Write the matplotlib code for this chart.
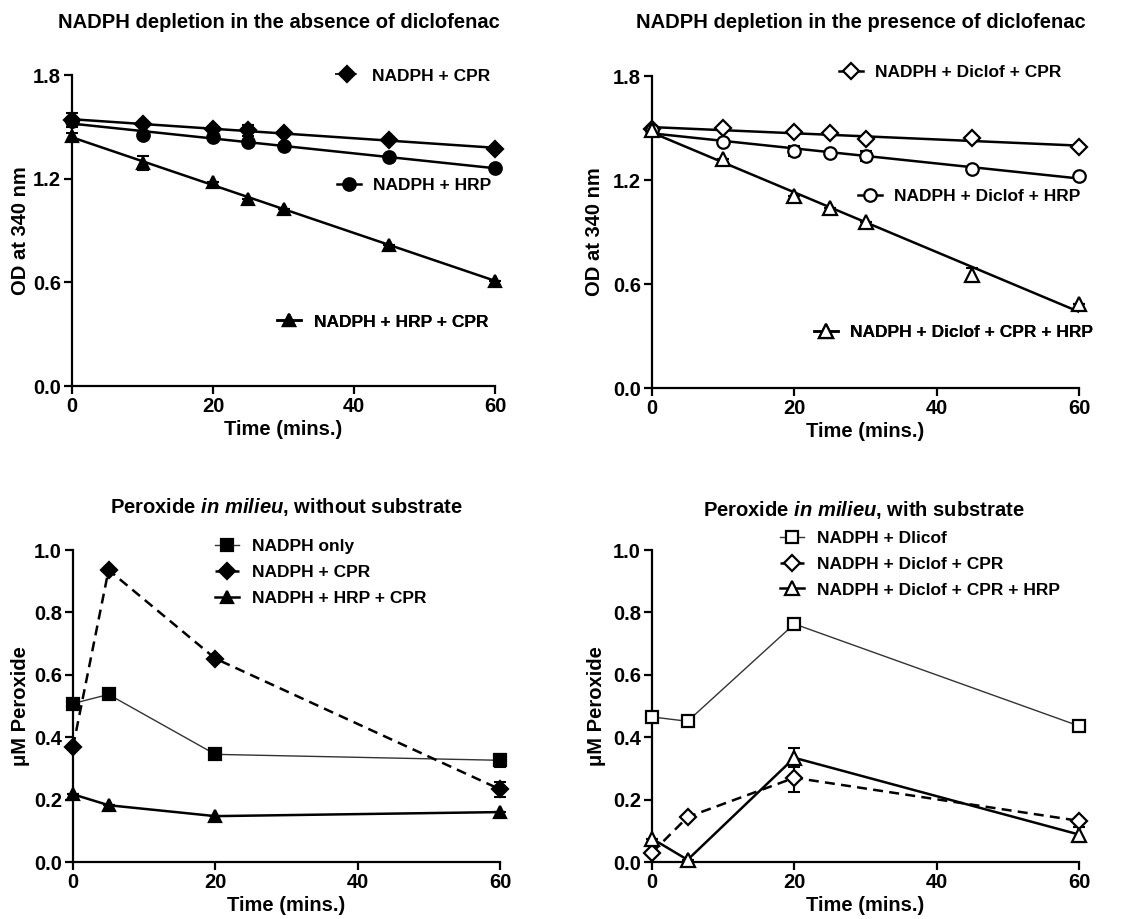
import numpy as np
import matplotlib
matplotlib.use("Agg")
import matplotlib.pyplot as plt
from matplotlib.lines import Line2D

plt.rcParams['font.family'] = ['Liberation Sans', 'DejaVu Sans']
plt.rcParams['font.weight'] = 'bold'
plt.rcParams['mathtext.fontset'] = 'custom'
plt.rcParams['mathtext.rm'] = 'Liberation Sans:bold'
plt.rcParams['mathtext.it'] = 'Liberation Sans:italic:bold'

# NADPH depletion, no diclofenac
t_dep = [0, 10, 20, 25, 30, 45, 60]
od_cpr = [1.541, 1.516, 1.487, 1.479, 1.464, 1.425, 1.373]
od_cpr_err = [0.04, 0, 0, 0.03, 0, 0, 0]
od_hrp = [1.531, 1.454, 1.441, 1.410, 1.390, 1.325, 1.261]
od_hrp_err = [0, 0, 0, 0, 0, 0, 0]
od_hrp_cpr = [1.445, 1.29, 1.178, 1.081, 1.024, 0.817, 0.61]
od_hrp_cpr_err = [0.02, 0.04, 0, 0, 0, 0, 0]

# NADPH depletion, with diclofenac
od_d_cpr = [1.492, 1.498, 1.475, 1.469, 1.436, 1.440, 1.388]
od_d_cpr_err = [0, 0, 0, 0, 0, 0, 0]
od_d_hrp = [1.488, 1.42, 1.369, 1.357, 1.338, 1.263, 1.224]
od_d_hrp_err = [0, 0, 0.03, 0, 0.03, 0, 0]
od_d_cpr_hrp = [1.49, 1.32, 1.105, 1.036, 0.955, 0.651, 0.483]
od_d_cpr_hrp_err = [0.02, 0, 0, 0, 0, 0.04, 0]

# Peroxide, no substrate
t_per = [0, 5, 20, 60]
per_only = [0.508, 0.537, 0.345, 0.326]
per_only_err = [0, 0, 0, 0.02]
per_cpr = [0.369, 0.936, 0.652, 0.233]
per_cpr_err = [0, 0, 0, 0.025]
per_hrp_cpr = [0.217, 0.182, 0.147, 0.160]
per_hrp_cpr_err = [0, 0, 0, 0]

# Peroxide, with substrate
per_d = [0.465, 0.451, 0.763, 0.436]
per_d_err = [0, 0.01, 0.01, 0]
per_d_cpr = [0.030, 0.144, 0.27, 0.132]
per_d_cpr_err = [0, 0, 0.045, 0]
per_d_cpr_hrp = [0.075, 0.007, 0.334, 0.088]
per_d_cpr_hrp_err = [0, 0, 0.03, 0.025]

W, H = 1144, 919
fig = plt.figure(figsize=(W / 100, H / 100), dpi=100)

FS = 14.5


def px_axes(l, t, r, b):
    return fig.add_axes([l / W, 1 - b / H, (r - l) / W, (b - t) / H])


def style(ax, ymax, yticks, ylabel, ylab_x):
    ax.set_xlim(0, 60)
    ax.set_ylim(0, ymax)
    ax.set_xticks([0, 20, 40, 60])
    ax.set_yticks(yticks)
    ax.set_yticklabels(['%.1f' % v for v in yticks])
    for s in ['top', 'right']:
        ax.spines[s].set_visible(False)
    for s in ['left', 'bottom']:
        ax.spines[s].set_linewidth(1.6)
    ax.tick_params(direction='out', length=6, width=1.6, labelsize=FS, pad=2)
    for lab in ax.get_xticklabels() + ax.get_yticklabels():
        lab.set_fontweight('bold')
    ax.set_xlabel('Time (mins.)', fontsize=FS, fontweight='bold', labelpad=3)
    ax.set_ylabel(ylabel, fontsize=FS, fontweight='bold')
    ax.yaxis.set_label_coords(ylab_x, 0.5)


def series(ax, x, y, err, marker, ms, open_=False, ls='-', lw=1.8, fit=False, color='black'):
    fc = 'white' if open_ else 'black'
    ax.errorbar(x, y, yerr=err, fmt='none', ecolor='black', elinewidth=1.5,
                capsize=4, capthick=1.5, clip_on=False, zorder=3)
    if fit:
        k, b0 = np.polyfit(x, y, 1)
        xs = np.array([0, 60])
        ax.plot(xs, k * xs + b0, color='black', lw=lw, ls=ls, zorder=2)
    else:
        ax.plot(x, y, color=color, lw=lw, ls=ls, zorder=2)
    ax.plot(x, y, ls='none', marker=marker, ms=ms, mfc=fc, mec='black',
            mew=1.6, clip_on=False, zorder=4)
    return Line2D([], [], color=color, lw=lw, ls=ls, marker=marker, ms=ms,
                  mfc=fc, mec='black', mew=1.6)


def legend1(ax, h, label, x, y, fs=12.5):
    lg = ax.legend([h], [label], loc='center left', bbox_to_anchor=(x, y),
                   frameon=False, borderpad=0, borderaxespad=0,
                   handlelength=1.4, handletextpad=0.7,
                   prop={'weight': 'bold', 'size': fs})
    ax.add_artist(lg)


# ---- top left
ax1 = px_axes(72, 75, 495, 386)
style(ax1, 1.8, [0.0, 0.6, 1.2, 1.8], 'OD at 340 nm', -0.100)
h1 = series(ax1, t_dep, od_cpr, od_cpr_err, 'D', 8, fit=True)
h2 = series(ax1, t_dep, od_hrp, od_hrp_err, 'o', 9, fit=True)
h3 = series(ax1, t_dep, od_hrp_cpr, od_hrp_cpr_err, '^', 9, fit=True)
h1.set_linestyle((0, (3, 2)))
h1.set_linewidth(1.2)
legend1(ax1, h1, 'NADPH + CPR', 0.622, 0.997)
legend1(ax1, h2, 'NADPH + HRP', 0.626, 0.646)
legend1(ax1, h3, 'NADPH + HRP + CPR', 0.485, 0.206)

# ---- top right
ax2 = px_axes(652, 76, 1079, 388)
style(ax2, 1.8, [0.0, 0.6, 1.2, 1.8], 'OD at 340 nm', -0.112)
g1 = series(ax2, t_dep, od_d_cpr, od_d_cpr_err, 'D', 8, open_=True, fit=True)
g2 = series(ax2, t_dep, od_d_hrp, od_d_hrp_err, 'o', 9, open_=True, fit=True)
g3 = series(ax2, t_dep, od_d_cpr_hrp, od_d_cpr_hrp_err, '^', 10, open_=True, fit=True)
legend1(ax2, g1, 'NADPH + Diclof + CPR', 0.438, 1.01)
legend1(ax2, g2, 'NADPH + Diclof + HRP', 0.482, 0.615)
legend1(ax2, g3, 'NADPH + Diclof + CPR + HRP', 0.379, 0.179)

# ---- bottom left
ax3 = px_axes(73, 550, 500, 862)
style(ax3, 1.0, [0.0, 0.2, 0.4, 0.6, 0.8, 1.0], '\u03bcM Peroxide', -0.100)
k1 = series(ax3, t_per, per_only, per_only_err, 's', 9, lw=1.0, color='#333333')
k2 = series(ax3, t_per, per_cpr, per_cpr_err, 'D', 8, ls=(0, (4, 2.5)), lw=1.8)
k3 = series(ax3, t_per, per_hrp_cpr, per_hrp_cpr_err, '^', 9, lw=1.8)
ax3.legend([k1, k2, k3], ['NADPH only', 'NADPH + CPR', 'NADPH + HRP + CPR'],
           loc='center left', bbox_to_anchor=(0.333, 0.929), frameon=False,
           borderpad=0, borderaxespad=0, handlelength=1.4, handletextpad=0.7,
           labelspacing=0.62, prop={'weight': 'bold', 'size': 12.5})

# ---- bottom right
ax4 = px_axes(652, 550, 1079, 862)
style(ax4, 1.0, [0.0, 0.2, 0.4, 0.6, 0.8, 1.0], '\u03bcM Peroxide', -0.108)
m1 = series(ax4, t_per, per_d, per_d_err, 's', 9, open_=True, lw=1.0, color='#333333')
m2 = series(ax4, t_per, per_d_cpr, per_d_cpr_err, 'D', 8, open_=True, ls=(0, (4, 2.5)), lw=1.8)
m3 = series(ax4, t_per, per_d_cpr_hrp, per_d_cpr_hrp_err, '^', 10, open_=True, lw=1.8)
ax4.legend([m1, m2, m3], ['NADPH + Dlicof', 'NADPH + Diclof + CPR',
                          'NADPH + Diclof + CPR + HRP'],
           loc='center left', bbox_to_anchor=(0.30, 0.955), frameon=False,
           borderpad=0, borderaxespad=0, handlelength=1.4, handletextpad=0.7,
           labelspacing=0.62, prop={'weight': 'bold', 'size': 12.5})

# titles
fig.text(279 / W, 1 - 23 / H, 'NADPH depletion in the absence of diclofenac',
         ha='center', va='center', fontsize=14.5, fontweight='bold')
fig.text(861 / W, 1 - 23 / H, 'NADPH depletion in the presence of diclofenac',
         ha='center', va='center', fontsize=14.5, fontweight='bold')
fig.text(286 / W, 1 - 507 / H, r'Peroxide $\mathit{in\ milieu}$, without substrate',
         ha='center', va='center', fontsize=14.5, fontweight='bold')
fig.text(864 / W, 1 - 510 / H, r'Peroxide $\mathit{in\ milieu}$, with substrate',
         ha='center', va='center', fontsize=14.5, fontweight='bold')

fig.savefig('out.png', dpi=100, facecolor='white')
